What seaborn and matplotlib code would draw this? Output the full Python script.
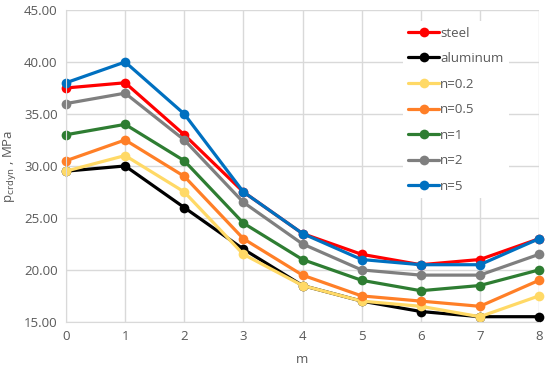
import pandas as pd
import numpy as np
import matplotlib.pyplot as plt
import seaborn as sns

sns.set_style("whitegrid")
plt.rcParams['font.family'] = ['Open Sans', 'DejaVu Sans']

m = [0, 1, 2, 3, 4, 5, 6, 7, 8]

steel = [37.5, 38.0, 33.0, 27.5, 23.5, 21.5, 20.5, 21.0, 23.0]
aluminum = [29.5, 30.0, 26.0, 22.0, 18.5, 17.0, 16.0, 15.5, 15.5]
n02 = [29.5, 31.0, 27.5, 21.5, 18.5, 17.0, 16.5, 15.5, 17.5]
n05 = [30.5, 32.5, 29.0, 23.0, 19.5, 17.5, 17.0, 16.5, 19.0]
n1 = [33.0, 34.0, 30.5, 24.5, 21.0, 19.0, 18.0, 18.5, 20.0]
n2 = [36.0, 37.0, 32.5, 26.5, 22.5, 20.0, 19.5, 19.5, 21.5]
n5 = [38.0, 40.0, 35.0, 27.5, 23.5, 21.0, 20.5, 20.5, 23.0]

series_names = ['steel', 'aluminum', 'n=0.2', 'n=0.5', 'n=1', 'n=2', 'n=5']
series_vals = [steel, aluminum, n02, n05, n1, n2, n5]
colors = ['#FF0000', '#000000', '#FFD966', '#FF7F27', '#2E7D32', '#7F7F7F', '#0070C0']

rows = []
for name, vals in zip(series_names, series_vals):
    for x, y in zip(m, vals):
        rows.append({'m': x, 'p': y, 'series': name})
df = pd.DataFrame(rows)

fig = plt.figure(figsize=(5.5, 3.7), dpi=100)
ax = fig.add_axes([0.12, 0.13, 0.86, 0.843])

sns.lineplot(data=df, x='m', y='p', hue='series', hue_order=series_names,
             palette=colors, marker='o', markersize=7, markeredgewidth=0,
             linewidth=2.3, ax=ax)

ax.set_xlim(0, 8)
ax.set_ylim(15, 45)
ax.set_xticks(m)
ax.set_yticks(np.arange(15, 46, 5))
ax.set_yticklabels(['%.2f' % v for v in np.arange(15, 46, 5)])
ax.grid(True, color='#D9D9D9', linewidth=1)
for s in ['top', 'right']:
    ax.spines[s].set_visible(False)
for s in ['left', 'bottom']:
    ax.spines[s].set_color('#D9D9D9')
ax.tick_params(axis='both', colors='#595959', labelsize=9.5, length=0, pad=6)
ax.set_xlabel('m', color='#595959', fontsize=9.5, labelpad=7)
ax.set_ylabel(r'p$_{\mathrm{crdyn}}$ , MPa', color='#595959', fontsize=9.5)

for line in ax.lines:
    line.set_clip_on(False)

leg = ax.legend(loc='upper right', bbox_to_anchor=(0.95, 0.985), frameon=True,
                fontsize=9.5, handlelength=2.3, labelspacing=0.95,
                handletextpad=0.1, borderpad=0.4)
leg.get_frame().set_facecolor('white')
leg.get_frame().set_edgecolor('none')
leg.get_frame().set_alpha(1)
for t in leg.get_texts():
    t.set_color('#595959')

plt.savefig('out.png', dpi=100)
